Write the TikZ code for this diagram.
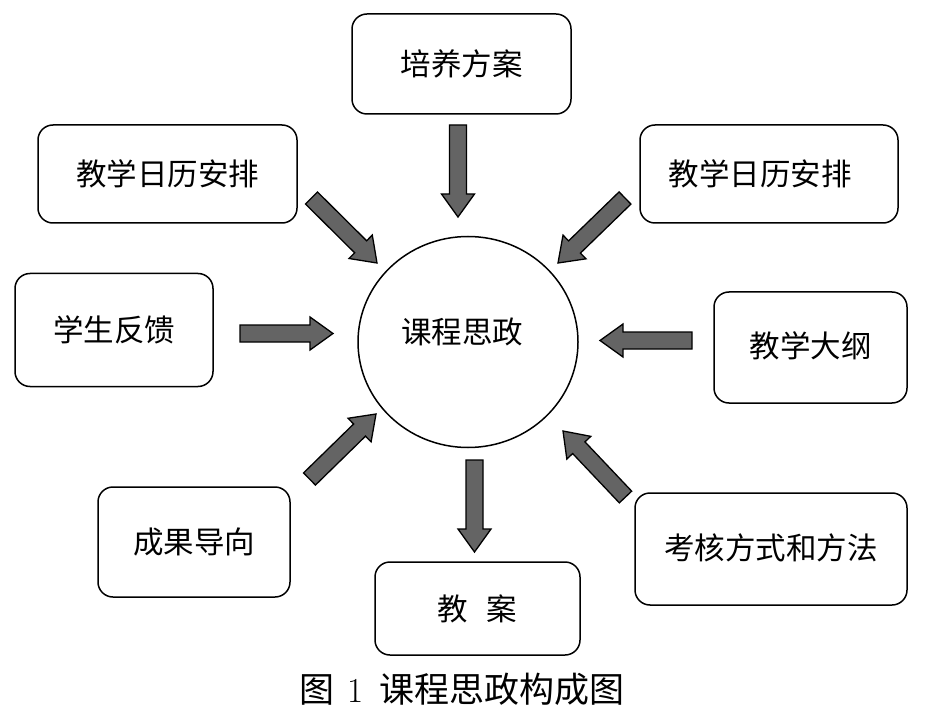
\documentclass[tikz,border=0pt]{standalone}
\usepackage{fontspec}
\newfontfamily\cjk{Noto Sans CJK SC}
\usetikzlibrary{calc,shapes.geometric}
\definecolor{arrgray}{RGB}{100,100,100}
\tikzset{
  box/.style={draw=black, line width=1.5pt, rounded corners=15pt, inner sep=0pt,
    font=\cjk\fontsize{30.5}{31}\selectfont},
  hub/.style={draw=black, line width=1.5pt, ellipse, inner sep=0pt,
    minimum width=220pt, minimum height=211pt},
  hubtext/.style={font=\cjk\fontsize{30.5}{31}\selectfont, inner sep=0pt},
  blockarrow/.style={draw=black, line width=1.3pt, fill=arrgray, line join=miter},
  captionstyle/.style={font=\fontsize{35}{36}\selectfont, inner sep=0pt}
}
\newcommand\blockarr[2]{%
  \path ($(#2)!23pt!(#1)$) coordinate (neck);
  \draw[blockarrow] ($(#1)!8.5pt!90:(#2)$) -- ($(neck)!8.5pt!90:(#2)$)
    -- ($(neck)!16.5pt!90:(#2)$) -- (#2) -- ($(neck)!16.5pt!-90:(#2)$)
    -- ($(neck)!8.5pt!-90:(#2)$) -- ($(#1)!8.5pt!-90:(#2)$) -- cycle;}
\begin{document}
\begin{tikzpicture}[x=1pt,y=-1pt]
\useasboundingbox (0,0) rectangle (936,708);
\fill[white] (0,0) rectangle (936,708);
% boxes
\node[box, minimum width=219pt, minimum height=100pt] (pyfa) at (461.5,64) {培养方案};
\node[box, minimum width=259pt, minimum height=98pt] (rlL) at (167.5,174) {教学日历安排};
\node[box, minimum width=258pt, minimum height=98pt] (rlR) at (769,174) {\hspace{-18pt}教学日历安排};
\node[box, minimum width=198pt, minimum height=113pt] (xsfk) at (114,330) {\raisebox{3pt}{学生反馈}};
\node[box, minimum width=193pt, minimum height=111pt] (jxdg) at (810.5,347.5) {\raisebox{5pt}{教学大纲}};
\node[box, minimum width=192pt, minimum height=110pt] (cgdx) at (194,542) {成果导向};
\node[box, minimum width=272pt, minimum height=112pt] (khff) at (771,549) {\raisebox{4pt}{考核方式和方法}};
\node[box, minimum width=205pt, minimum height=93pt] (ja) at (477.5,608.5) {教\hspace{0.6em}案};
% hub
\node[hub] (hub) at (468,342) {};
\node[hubtext] (hubt) at (462,332) {课程思政};
% arrow coordinates
\coordinate (a1t) at (458,125);   \coordinate (a1h) at (458,217);
\coordinate (a2t) at (311.5,198); \coordinate (a2h) at (377,263);
\coordinate (a3t) at (625,198);   \coordinate (a3h) at (558,263);
\coordinate (a4t) at (240,333.5); \coordinate (a4h) at (333,333.5);
\coordinate (a5t) at (692,340.5); \coordinate (a5h) at (600,340.5);
\coordinate (a6t) at (309.5,479); \coordinate (a6h) at (376,414);
\coordinate (a7t) at (474.5,460); \coordinate (a7h) at (474.5,552);
\coordinate (a8t) at (625.5,497); \coordinate (a8h) at (563,431);
\blockarr{a1t}{a1h}
\blockarr{a2t}{a2h}
\blockarr{a3t}{a3h}
\blockarr{a4t}{a4h}
\blockarr{a5t}{a5h}
\blockarr{a6t}{a6h}
\blockarr{a7t}{a7h}
\blockarr{a8t}{a8h}
% caption
\node[captionstyle] (cap) at (462,689) {{\cjk 图}\hspace{13pt}1\hspace{16pt}{\cjk 课程思政构成图}};
\end{tikzpicture}
\end{document}
